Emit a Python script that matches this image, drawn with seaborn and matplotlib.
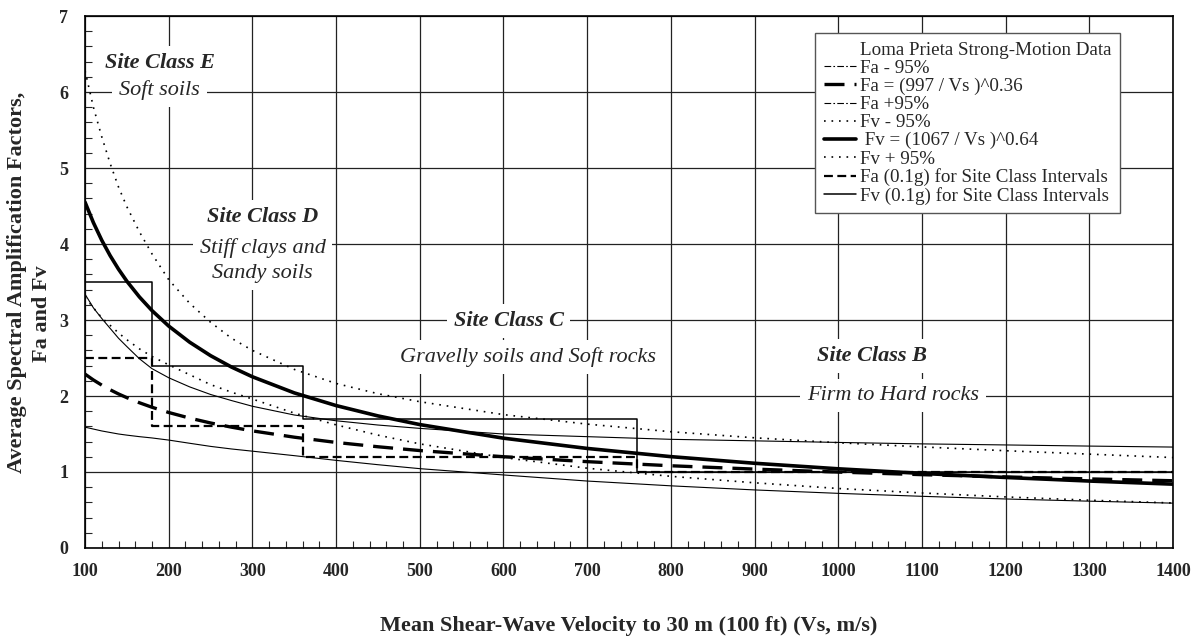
import numpy as np
import pandas as pd
import matplotlib
matplotlib.use("Agg")
import matplotlib.pyplot as plt
import seaborn as sns
from matplotlib.lines import Line2D
from matplotlib.ticker import MultipleLocator

# ---------------- data ----------------
vs = [100, 110, 120, 130, 140, 150, 165, 180, 200, 225, 250, 275, 300, 350, 400, 450,
      500, 600, 700, 800, 900, 1000, 1100, 1200, 1300, 1400]
fa_mean = [2.288, 2.211, 2.143, 2.082, 2.027, 1.978, 1.911, 1.852, 1.783, 1.709, 1.645,
           1.590, 1.541, 1.458, 1.389, 1.332, 1.282, 1.201, 1.136, 1.082, 1.038, 0.999,
           0.965, 0.935, 0.909, 0.885]
fa_plus = [3.34, 3.16, 3.02, 2.89, 2.76, 2.65, 2.49, 2.36, 2.24, 2.12, 2.02, 1.94, 1.865,
           1.75, 1.674, 1.618, 1.574, 1.50, 1.465, 1.43, 1.41, 1.389, 1.37, 1.356, 1.341, 1.328]
fa_minus = [1.59, 1.565, 1.54, 1.52, 1.50, 1.485, 1.465, 1.448, 1.42, 1.378, 1.337, 1.303,
            1.274, 1.215, 1.153, 1.096, 1.044, 0.961, 0.881, 0.818, 0.764, 0.719, 0.680,
            0.645, 0.616, 0.59]
fv_mean = [4.550, 4.281, 4.049, 3.847, 3.669, 3.510, 3.303, 3.124, 2.920, 2.708, 2.531,
           2.381, 2.253, 2.041, 1.874, 1.738, 1.624, 1.445, 1.310, 1.202, 1.115, 1.042,
           0.981, 0.928, 0.881, 0.840]
fv_plus = [6.28, 5.80, 5.41, 5.06, 4.75, 4.49, 4.16, 3.87, 3.53, 3.22, 2.97, 2.76, 2.60,
           2.35, 2.165, 2.03, 1.925, 1.755, 1.63, 1.53, 1.45, 1.385, 1.33, 1.28, 1.235, 1.19]
fv_minus = [3.30, 3.16, 3.03, 2.93, 2.83, 2.74, 2.62, 2.52, 2.41, 2.28, 2.15, 2.05, 1.96,
            1.775, 1.62, 1.485, 1.37, 1.19, 1.05, 0.943, 0.858, 0.783, 0.724, 0.672, 0.629, 0.592]

class_vs = [100, 180, 360, 760, 1400]
fa_class = [2.5, 1.6, 1.2, 1.0, 1.0]
fv_class = [3.5, 2.4, 1.7, 1.0, 1.0]

legend_labels = ["Loma Prieta Strong-Motion Data", "Fa - 95%", "Fa = (997 / Vs )^0.36",
                 "Fa +95%", "Fv - 95%", " Fv = (1067 / Vs )^0.64", "Fv + 95%",
                 "Fa (0.1g) for Site Class Intervals", "Fv (0.1g) for Site Class Intervals"]

annotations = [
    ("Site Class E", 190, 6.38, "bold"),
    ("Soft soils", 189, 6.02, "normal"),
    ("Site Class D", 312, 4.36, "bold"),
    ("Stiff clays and\nSandy soils", 312, 3.78, "normal"),
    ("Site Class C", 606, 2.99, "bold"),
    ("Gravelly soils and Soft rocks", 629, 2.51, "normal"),
    ("Site Class B", 1040, 2.53, "bold"),
    ("Firm to Hard rocks", 1065, 2.01, "normal"),
]

# ---------------- style ----------------
sns.set_style("ticks")
plt.rcParams["font.family"] = ["Liberation Serif", "DejaVu Serif"]
plt.rcParams["axes.linewidth"] = 1.2

fig = plt.figure(figsize=(11.96, 6.41), dpi=100)
ax = fig.add_axes([0.0711, 0.1451, 0.9097, 0.8299])

k = "black"
dot = (0, (1, 3.5))
thin_dd = (0, (6, 2, 1.5, 2))

sns.lineplot(x=vs, y=fv_plus, ax=ax, color=k, lw=1.2, linestyle=dot, errorbar=None)
sns.lineplot(x=vs, y=fv_minus, ax=ax, color=k, lw=1.2, linestyle=dot, errorbar=None)
sns.lineplot(x=vs, y=fa_plus, ax=ax, color=k, lw=0.8, errorbar=None)
sns.lineplot(x=vs, y=fa_minus, ax=ax, color=k, lw=0.8, errorbar=None)
sns.lineplot(x=class_vs, y=fv_class, ax=ax, color=k, lw=1.1, drawstyle="steps-post", errorbar=None)
sns.lineplot(x=class_vs, y=fa_class, ax=ax, color=k, lw=1.6, linestyle=(0, (4, 2)),
             drawstyle="steps-post", errorbar=None)
sns.lineplot(x=vs, y=fa_mean, ax=ax, color=k, lw=2.4, linestyle=(0, (6, 3)), errorbar=None)
sns.lineplot(x=vs, y=fv_mean, ax=ax, color=k, lw=2.6, errorbar=None)

ax.set_xlim(100, 1400)
ax.set_ylim(0, 7)
ax.xaxis.set_major_locator(MultipleLocator(100))
ax.yaxis.set_major_locator(MultipleLocator(1))
ax.xaxis.set_minor_locator(MultipleLocator(20))
ax.yaxis.set_minor_locator(MultipleLocator(0.2))
ax.set_axisbelow(True)
ax.grid(True, which="major", color="#222222", lw=0.9)
for s in ax.spines.values():
    s.set_visible(True)
    s.set_color("black")

ax.tick_params(which="major", length=0, labelsize=13, pad=11)
ax.tick_params(axis="y", which="major", pad=12)
ax.tick_params(which="minor", direction="in", length=5, width=0.8, bottom=True, left=True,
               top=False, right=False)
for lab in ax.get_xticklabels() + ax.get_yticklabels():
    lab.set_fontweight("bold")

ax.set_xlabel("Mean Shear-Wave Velocity to 30 m (100 ft) (Vs, m/s)", fontsize=16, fontweight="bold")
ax.xaxis.set_label_coords(0.5, -0.128)
ax.set_ylabel("Average Spectral Amplification Factors,", fontsize=16, fontweight="bold")
ax.yaxis.set_label_coords(-0.053, 0.5)
ax.text(-0.0395, 0.44, "Fa and Fv", transform=ax.transAxes, rotation=90, ha="center",
        va="center", fontsize=16, fontweight="bold")

for txt, x, y, w in annotations:
    ax.text(x, y, txt, ha="center", va="center", fontsize=16, style="italic", fontweight=w,
            linespacing=1.45,
            bbox=dict(facecolor="white", edgecolor="none", pad=5), zorder=4)

styles = [
    dict(linestyle="none"),
    dict(lw=0.8, linestyle=thin_dd),
    dict(lw=2.4, linestyle=(0, (6, 3))),
    dict(lw=0.8, linestyle=thin_dd),
    dict(lw=1.2, linestyle=dot),
    dict(lw=2.6, linestyle="-"),
    dict(lw=1.2, linestyle=dot),
    dict(lw=1.6, linestyle=(0, (4, 2))),
    dict(lw=1.1, linestyle="-"),
]
handles = [Line2D([], [], color=k, label=l, **st) for l, st in zip(legend_labels, styles)]
leg = ax.legend(handles=handles, loc="upper right", bbox_to_anchor=(0.951, 0.968),
                fontsize=13.7, frameon=True, fancybox=False, edgecolor="#555555", framealpha=1,
                borderaxespad=0, labelspacing=0.04, handlelength=1.7, handletextpad=0.2,
                borderpad=0.45)
leg.get_frame().set_linewidth(1.0)
leg.set_zorder(6)

fig.savefig("out.png", dpi=100)
